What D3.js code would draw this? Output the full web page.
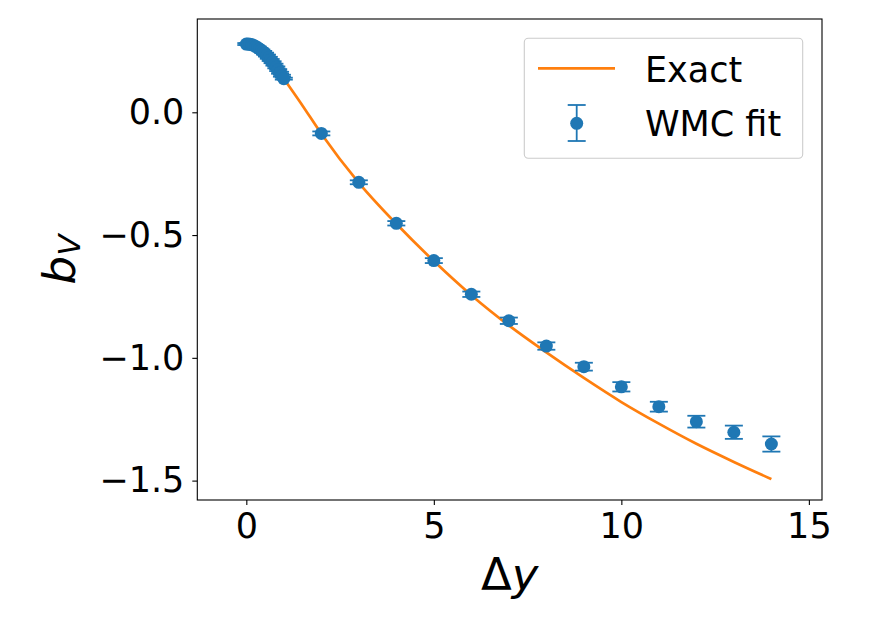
<!DOCTYPE html>
<html>
<head>
    <meta charset="utf-8">
    <style>
        body { margin: 0; background: white; }
        svg { font-family: 'DejaVu Sans', sans-serif; }
        .axis path, .axis line { stroke: #000; stroke-width: 1.1; }
        .axis text { font-size: 35px; fill: #000; font-family: 'DejaVu Sans', sans-serif; }
    </style>
</head>
<body>
<svg width="872" height="617"></svg>

<script src="https://d3js.org/d3.v7.min.js"></script>
<script>
    // WMC fit points (dense 0..1, then integer steps)
    const fitX = [0, 0.05, 0.1, 0.15, 0.2, 0.25, 0.3, 0.35, 0.4, 0.45, 0.5,
        0.55, 0.6, 0.65, 0.7, 0.75, 0.8, 0.85, 0.9, 0.95, 1.0,
        2, 3, 4, 5, 6, 7, 8, 9, 10, 11, 12, 13, 14]
    const fitY = [0.278, 0.278, 0.277, 0.275, 0.272, 0.268, 0.264, 0.258, 0.252, 0.246, 0.239,
        0.231, 0.222, 0.213, 0.204, 0.194, 0.183, 0.172, 0.161, 0.149, 0.137,
        -0.086, -0.285, -0.452, -0.604, -0.741, -0.849, -0.952, -1.036, -1.118, -1.199, -1.260, -1.303, -1.351]
    const fitErr = [0.004, 0.004, 0.004, 0.004, 0.004, 0.004, 0.004, 0.004, 0.004, 0.004, 0.004,
        0.004, 0.004, 0.004, 0.004, 0.004, 0.004, 0.004, 0.004, 0.004, 0.004,
        0.008, 0.008, 0.009, 0.010, 0.011, 0.013, 0.015, 0.016, 0.019, 0.020, 0.024, 0.027, 0.031]

    // exact curve
    const exactX = [0, 0.25, 0.5, 0.75, 1, 1.5, 2, 3, 4, 5, 6, 7, 8, 9, 10, 11, 12, 13, 14]
    const exactY = [0.278, 0.268, 0.239, 0.195, 0.138, 0.027, -0.087, -0.287, -0.454, -0.606,
        -0.745, -0.868, -0.978, -1.082, -1.180, -1.268, -1.350, -1.424, -1.494]

    const xTicks = [0, 5, 10, 15]
    const yTicks = [0.0, -0.5, -1.0, -1.5]

    const blue = "#1f77b4"
    const orange = "#ff7f0e"

    const margin = { left: 197.3, right: 822, top: 19, bottom: 500 }

    let svg = d3.select("svg")

    let x = d3.scaleLinear()
        .domain([-1.307, 15.35])
        .range([margin.left, margin.right])

    let y = d3.scaleLinear()
        .domain([-1.579, 0.380])
        .range([margin.bottom, margin.top])

    // axes
    svg.append("g")
        .attr("class", "axis")
        .attr("transform", `translate(0,${margin.bottom})`)
        .call(d3.axisBottom(x).tickValues(xTicks).tickSize(5).tickPadding(8).tickFormat(d3.format("d")))
        .call(g => g.select(".domain").remove())
        .attr("font-family", null).attr("font-size", null)

    svg.append("g")
        .attr("class", "axis")
        .attr("transform", `translate(${margin.left},0)`)
        .call(d3.axisLeft(y).tickValues(yTicks).tickSize(5).tickPadding(8).tickFormat(d3.format(".1f")))
        .call(g => g.select(".domain").remove())
        .attr("font-family", null).attr("font-size", null)

    // exact line
    let line = d3.line()
        .x(i => x(exactX[i]))
        .y(i => y(exactY[i]))
        .curve(d3.curveMonotoneX)

    svg.append("path")
        .attr("d", line(d3.range(exactX.length)))
        .style("fill", "none")
        .style("stroke", orange)
        .style("stroke-width", 2.7)

    // error bars
    let idx = d3.range(fitX.length)
    let capW = 9

    svg.selectAll(".ebar")
        .data(idx)
        .join("line")
        .attr("x1", i => x(fitX[i]))
        .attr("x2", i => x(fitX[i]))
        .attr("y1", i => y(fitY[i] - fitErr[i]))
        .attr("y2", i => y(fitY[i] + fitErr[i]))
        .style("stroke", blue)
        .style("stroke-width", 1.8)

    idx.forEach(i => {
        [-1, 1].forEach(s => {
            svg.append("line")
                .attr("x1", x(fitX[i]) - capW)
                .attr("x2", x(fitX[i]) + capW)
                .attr("y1", y(fitY[i] + s * fitErr[i]))
                .attr("y2", y(fitY[i] + s * fitErr[i]))
                .style("stroke", blue)
                .style("stroke-width", 1.8)
        })
    })

    svg.selectAll(".pt")
        .data(idx)
        .join("circle")
        .attr("cx", i => x(fitX[i]))
        .attr("cy", i => y(fitY[i]))
        .attr("r", 6.5)
        .style("fill", blue)

    // frame
    svg.append("rect")
        .attr("x", margin.left)
        .attr("y", margin.top)
        .attr("width", margin.right - margin.left)
        .attr("height", margin.bottom - margin.top)
        .style("fill", "none")
        .style("stroke", "#000")
        .style("stroke-width", 1.1)

    // axis labels
    let xl = svg.append("text")
        .attr("x", (margin.left + margin.right) / 2)
        .attr("y", 590)
        .attr("text-anchor", "middle")
        .style("font-size", "45px")
    xl.append("tspan").text("Δ")
    xl.append("tspan").style("font-style", "italic").text("y")

    let yl = svg.append("text")
        .attr("transform", `translate(75,${(margin.top + margin.bottom) / 2}) rotate(-90)`)
        .attr("text-anchor", "middle")
        .style("font-size", "45px")
    yl.append("tspan").style("font-style", "italic").text("b")
    yl.append("tspan").style("font-style", "italic").style("font-size", "31px").attr("dy", 5).text("V")

    // legend
    let lg = svg.append("g")
    lg.append("rect")
        .attr("x", 524.3).attr("y", 38.3)
        .attr("width", 278.4).attr("height", 120)
        .attr("rx", 4)
        .style("fill", "white").style("fill-opacity", 0.8)
        .style("stroke", "#cccccc").style("stroke-width", 1.1)

    lg.append("line")
        .attr("x1", 538).attr("x2", 615).attr("y1", 68.3).attr("y2", 68.3)
        .style("stroke", orange).style("stroke-width", 2.7)

    lg.append("line")
        .attr("x1", 576.7).attr("x2", 576.7).attr("y1", 105).attr("y2", 141)
        .style("stroke", blue).style("stroke-width", 1.8)
    ;[105, 141].forEach(cy => {
        lg.append("line")
            .attr("x1", 576.7 - capW).attr("x2", 576.7 + capW).attr("y1", cy).attr("y2", cy)
            .style("stroke", blue).style("stroke-width", 1.8)
    })
    lg.append("circle").attr("cx", 576.7).attr("cy", 123.3).attr("r", 6.5).style("fill", blue)

    lg.append("text").attr("x", 645).attr("y", 82.3).style("font-size", "35px").text("Exact")
    lg.append("text").attr("x", 645).attr("y", 136).style("font-size", "35px").text("WMC fit")
</script>
</body>
</html>
